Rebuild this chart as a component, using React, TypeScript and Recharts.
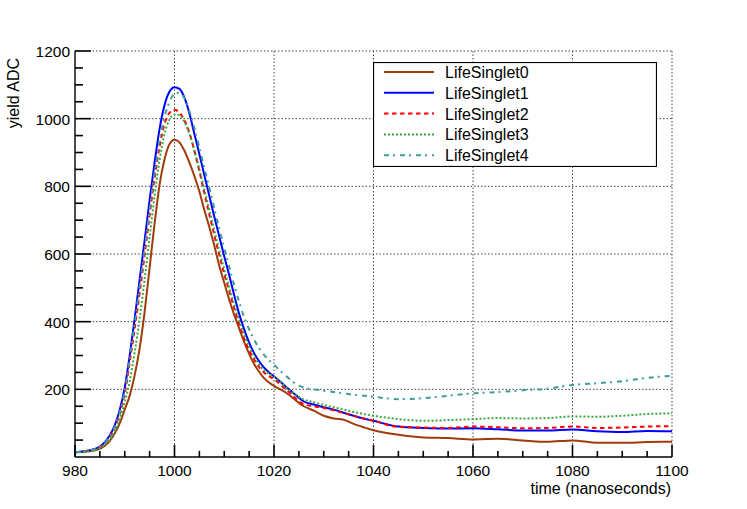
import React from 'react';
import { LineChart, Line, XAxis, YAxis, CartesianGrid, Legend, ReferenceLine } from 'recharts';

const times = [
  980, 982, 984,
  985, 986, 987, 988, 989, 990, 991, 992, 993, 994, 995, 996, 997, 998, 999, 1000,
  1001, 1002, 1003, 1004, 1005, 1006, 1007, 1008, 1009, 1010, 1011, 1012, 1013, 1014,
  1015, 1016, 1017, 1018, 1019, 1020, 1021, 1022, 1023, 1024, 1025, 1026,
  1028, 1030, 1032, 1034, 1036, 1038, 1040,
  1045, 1050, 1055, 1060, 1065, 1070, 1075, 1080, 1085, 1090, 1095, 1100,
];

const singlet0 = [
  14, 16, 20,
  24, 33, 48, 70, 100, 140, 182, 242, 322, 430, 560, 690, 805, 880, 925, 938,
  930, 905, 870, 830, 785, 730, 680, 625, 565, 515, 465, 420, 380, 340,
  305, 275, 252, 233, 220, 210, 202, 194, 184, 172, 160, 150,
  137, 122, 114, 110, 98, 88, 79,
  66, 58, 56, 52, 54, 49, 45, 49, 42, 42, 44, 45,
];

const singlet1 = [
  14, 17, 24,
  31, 44, 64, 94, 140, 205, 300, 410, 525, 640, 760, 870, 970, 1040, 1080, 1093,
  1088, 1062, 1015, 955, 895, 833, 772, 710, 652, 593, 537, 478, 423, 377,
  338, 307, 283, 264, 250, 238, 226, 213, 200, 188, 175, 164,
  155, 147, 140, 131, 122, 114, 107,
  90, 86, 84, 85, 82, 78, 78, 81, 76, 74, 77, 76,
];

const singlet2 = [
  14, 17, 23,
  29, 41, 59, 87, 128, 188, 280, 380, 485, 598, 715, 825, 918, 985, 1017, 1026,
  1018, 995, 958, 905, 845, 780, 717, 656, 597, 541, 490, 440, 392, 350,
  315, 288, 266, 250, 239, 230, 218, 205, 192, 178, 165, 156,
  150, 145, 138, 130, 122, 114, 107,
  89, 87, 86, 90, 88, 85, 86, 90, 86, 87, 90, 91,
];

const singlet3 = [
  14, 16, 21,
  26, 36, 51, 76, 112, 162, 225, 310, 410, 525, 650, 772, 878, 955, 998, 1012,
  1010, 990, 955, 905, 850, 790, 730, 670, 610, 555, 500, 450, 402, 362,
  327, 298, 274, 257, 246, 238, 226, 212, 199, 188, 178, 170,
  162, 154, 147, 140, 133, 127, 122,
  112, 107, 109, 112, 115, 114, 115, 120, 119, 122, 127, 129,
];

const singlet4 = [
  14, 17, 23,
  29, 42, 61, 90, 132, 195, 292, 395, 505, 615, 730, 840, 935, 1005, 1050, 1073,
  1077, 1060, 1022, 972, 915, 855, 795, 735, 675, 618, 562, 508, 458, 413,
  377, 347, 322, 302, 286, 273, 258, 245, 232, 220, 211, 205,
  200, 196, 192, 188, 184, 181, 178,
  171, 174, 181, 188, 192, 197, 202, 213, 218, 224, 234, 240,
];

const seriesNames = ['LifeSinglet0', 'LifeSinglet1', 'LifeSinglet2', 'LifeSinglet3', 'LifeSinglet4'];
const seriesColors = ['#a03c0a', '#0000ff', '#ff0000', '#3aa83a', '#3d9d9d'];
const seriesDash = ['', '', '4.5 3.5', '2 2', '5 4 2 5'];

const xMajorTicks = [980, 1000, 1020, 1040, 1060, 1080, 1100];
const xMinorTicks = [985, 990, 995, 1005, 1010, 1015, 1025, 1030, 1035, 1045, 1050, 1055, 1065, 1070, 1075, 1085, 1090, 1095];
const xGridValues = [1000, 1020, 1040, 1060, 1080, 1100];
const yMajorTicks = [200, 400, 600, 800, 1000, 1200];
const yMinorTicks = [50, 100, 150, 250, 300, 350, 450, 500, 550, 650, 700, 750, 850, 900, 950, 1050, 1100, 1150];

// tick mark lengths expressed in axis units (inward ticks, ROOT style)
const X_MAJOR_LEN = 36;
const X_MINOR_LEN = 18;
const Y_MAJOR_LEN = 3.2;
const Y_MINOR_LEN = 1.6;

const seriesValues = [singlet0, singlet1, singlet2, singlet3, singlet4];
const data = times.map((t, i) => {
  const row: Record<string, number> = { t };
  seriesValues.forEach((arr, k) => {
    row['s' + k] = arr[i];
  });
  return row;
});

const FONT = '"Liberation Sans", Arial, Helvetica, sans-serif';

function XTick(props: any) {
  const x = Number(props.x);
  const y = Number(props.y);
  const v = props.payload ? props.payload.value : 0;
  return (
    <text x={x} y={y + 19} textAnchor="middle" fontSize={15.5} fontFamily={FONT} fill="#000" stroke="none">
      {v}
    </text>
  );
}

function YTick(props: any) {
  const x = Number(props.x);
  const y = Number(props.y);
  const v = props.payload ? props.payload.value : 0;
  return (
    <text x={x - 5} y={y + 6} textAnchor="end" fontSize={15.5} fontFamily={FONT} fill="#000" stroke="none">
      {v}
    </text>
  );
}

const renderLegend = (props: any) => {
  const payload = props.payload || [];
  return (
    <svg width={284} height={105} style={{ display: 'block' }}>
      <rect x={0.5} y={0.5} width={283} height={104} fill="#fff" stroke="#000" strokeWidth={1.2} />
      {payload.map((entry: any, i: number) => {
        const idx = seriesNames.indexOf(entry.value);
        const cy = 10 + i * 20.8;
        return (
          <g key={entry.value}>
            <line
              x1={11}
              x2={61}
              y1={cy}
              y2={cy}
              stroke={entry.color}
              strokeWidth={2}
              strokeDasharray={idx >= 0 ? seriesDash[idx] : ''}
            />
            <text x={72} y={cy + 6} fontSize={16} fontFamily={FONT} fill="#000">
              {entry.value}
            </text>
          </g>
        );
      })}
    </svg>
  );
};

export default function App() {
  return (
    <div style={{ position: 'absolute', left: 0, top: 0, width: 747, height: 509, background: '#fff' }}>
      <LineChart width={747} height={509} data={data} margin={{ top: 51, right: 75, bottom: 0, left: 0 }}>
        <CartesianGrid
          horizontalValues={yMajorTicks}
          verticalValues={xGridValues}
          stroke="#444"
          strokeDasharray="1.5 2"
          strokeWidth={1}
        />
        <XAxis
          dataKey="t"
          type="number"
          domain={[980, 1100]}
          ticks={xMajorTicks}
          interval={0}
          allowDataOverflow
          height={52}
          tickSize={0}
          tickMargin={0}
          tickLine={false}
          axisLine={{ stroke: '#000', strokeWidth: 1.4 }}
          tick={(p: any) => <XTick {...p} />}
          label={(p: any) => {
            const vb = p.viewBox || {};
            return (
              <text
                x={(vb.x || 75) + (vb.width || 597) - 1}
                y={(vb.y || 457) + 37}
                textAnchor="end"
                fontSize={16}
                fontFamily={FONT}
                fill="#000"
              >
                time (nanoseconds)
              </text>
            );
          }}
        />
        <YAxis
          type="number"
          domain={[0, 1200]}
          ticks={yMajorTicks}
          interval={0}
          allowDataOverflow
          width={75}
          tickSize={0}
          tickMargin={0}
          tickLine={false}
          axisLine={{ stroke: '#000', strokeWidth: 1.4 }}
          tick={(p: any) => <YTick {...p} />}
          label={(p: any) => {
            const vb = p.viewBox || {};
            const yTop = (vb.y || 51) + 7;
            return (
              <text
                x={18.5}
                y={yTop}
                transform={`rotate(-90, 18.5, ${yTop})`}
                textAnchor="end"
                fontSize={16}
                fontFamily={FONT}
                fill="#000"
              >
                yield ADC
              </text>
            );
          }}
        />
        <Legend
          layout="vertical"
          align="center"
          verticalAlign="middle"
          content={renderLegend}
          wrapperStyle={{ position: 'absolute', left: 373, top: 62, width: 284, height: 105 }}
        />
        {seriesNames.map((name, k) => (
          <Line
            key={name}
            dataKey={'s' + k}
            name={name}
            type="monotone"
            stroke={seriesColors[k]}
            strokeWidth={2}
            strokeDasharray={seriesDash[k] || undefined}
            dot={false}
            activeDot={false}
            isAnimationActive={false}
          />
        ))}
        {xMajorTicks.map((v) => (
          <ReferenceLine
            key={'xM' + v}
            segment={[{ x: v, y: 0 }, { x: v, y: X_MAJOR_LEN }]}
            stroke="#000"
            strokeWidth={1.6}
            ifOverflow="visible"
          />
        ))}
        {xMinorTicks.map((v) => (
          <ReferenceLine
            key={'xm' + v}
            segment={[{ x: v, y: 0 }, { x: v, y: X_MINOR_LEN }]}
            stroke="#000"
            strokeWidth={1.6}
            ifOverflow="visible"
          />
        ))}
        {yMajorTicks.map((v) => (
          <ReferenceLine
            key={'yM' + v}
            segment={[{ x: 980, y: v }, { x: 980 + Y_MAJOR_LEN, y: v }]}
            stroke="#000"
            strokeWidth={1.6}
            ifOverflow="visible"
          />
        ))}
        {yMinorTicks.map((v) => (
          <ReferenceLine
            key={'ym' + v}
            segment={[{ x: 980, y: v }, { x: 980 + Y_MINOR_LEN, y: v }]}
            stroke="#000"
            strokeWidth={1.6}
            ifOverflow="visible"
          />
        ))}
      </LineChart>
    </div>
  );
}
